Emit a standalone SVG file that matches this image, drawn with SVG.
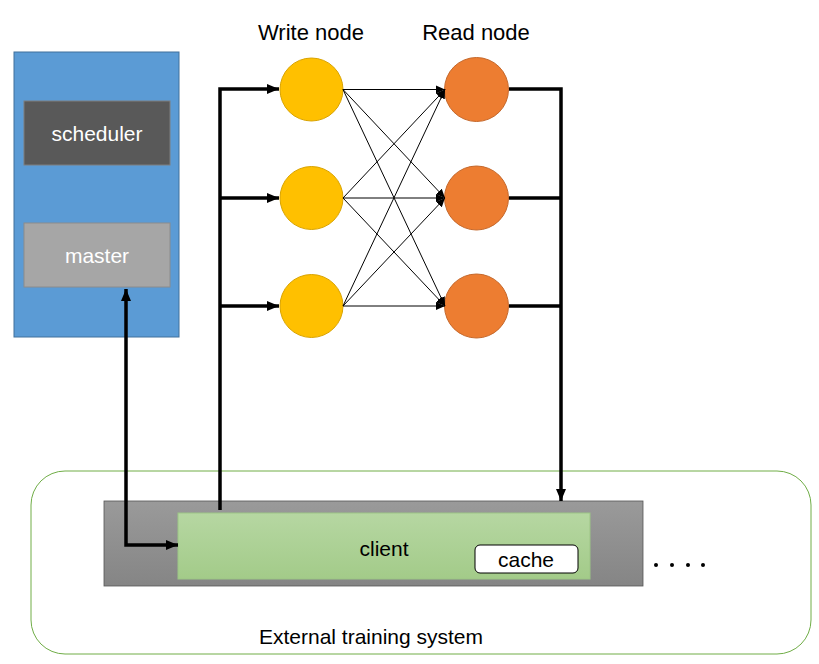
<svg xmlns="http://www.w3.org/2000/svg" width="819" height="664" viewBox="0 0 819 664">
<style>
text{font-family:"Liberation Sans",Arial,sans-serif}
.lbl{font-size:21px;fill:#000;text-anchor:middle}
.hdr{font-size:22px;fill:#000;text-anchor:middle}
.wlbl{font-size:21px;fill:#fff;text-anchor:middle}
.thick{stroke:#000;stroke-width:3.5;fill:none}
.thin{stroke:#000;stroke-width:1;fill:none;marker-end:url(#ah2)}
.wn{fill:#ffc000;stroke:#d9a300;stroke-width:1}
.rn{fill:#ed7d31;stroke:#c5682b;stroke-width:1}
</style>
<defs>
<marker id="ah" markerUnits="userSpaceOnUse" markerWidth="12" markerHeight="12" viewBox="0 0 12 12" refX="12" refY="6" orient="auto-start-reverse">
<path d="M0,1 L12,6 L0,11 Z" fill="#000"/>
</marker>
<marker id="ah2" markerUnits="userSpaceOnUse" markerWidth="9" markerHeight="9" viewBox="0 0 9 9" refX="9" refY="4.5" orient="auto">
<path d="M0,0.5 L9,4.5 L0,8.5 Z" fill="#000"/>
</marker>
<linearGradient id="gg" x1="0" y1="0" x2="0" y2="1">
<stop offset="0" stop-color="#9a9a9a"/>
<stop offset="1" stop-color="#858585"/>
</linearGradient>
<linearGradient id="gr" x1="0" y1="0" x2="0" y2="1">
<stop offset="0" stop-color="#b6d7a2"/>
<stop offset="1" stop-color="#a3cb89"/>
</linearGradient>
</defs>
<rect width="819" height="664" fill="#fff"/>

<g id="external-system">
<rect x="31" y="471" width="780" height="183" rx="34" ry="34" fill="none" stroke="#70ad47" stroke-width="1"/>
<text class="lbl" x="371" y="644">External training system</text>
</g>

<g id="cluster">
<rect x="14" y="52" width="165" height="285" fill="#5b9bd5" stroke="#41719c" stroke-width="1"/>
</g>
<g id="scheduler">
<rect x="24" y="101" width="146" height="64" fill="#595959" stroke="#7f7f7f" stroke-width="1"/>
<text class="wlbl" x="97" y="141">scheduler</text>
</g>
<g id="master">
<rect x="24" y="223" width="146" height="64" fill="#a6a6a6" stroke="#8c8c8c" stroke-width="1"/>
<text class="wlbl" x="97" y="263">master</text>
</g>

<text class="hdr" x="311" y="40">Write node</text>
<text class="hdr" x="476" y="40">Read node</text>

<g id="write1"><circle class="wn" cx="311.5" cy="89.5" r="31.5"/></g>
<g id="write2"><circle class="wn" cx="311.5" cy="198" r="31.5"/></g>
<g id="write3"><circle class="wn" cx="311.5" cy="306" r="31.5"/></g>
<g id="read1"><circle class="rn" cx="476.5" cy="89.5" r="32"/></g>
<g id="read2"><circle class="rn" cx="476.5" cy="198" r="32"/></g>
<g id="read3"><circle class="rn" cx="476.5" cy="306" r="32"/></g>

<g id="worker-host">
<rect x="104" y="501" width="539" height="85" fill="url(#gg)" stroke="#555" stroke-width="0.8"/>
</g>
<g id="client">
<rect x="178" y="513" width="412" height="66" fill="url(#gr)" stroke="#9cc585" stroke-width="1"/>
<text class="lbl" x="384" y="556">client</text>
</g>
<g id="cache">
<rect x="475" y="545" width="103" height="28" rx="5" ry="5" fill="#fff" stroke="#000" stroke-width="1"/>
<text class="lbl" x="526" y="567">cache</text>
</g>
<g id="more">
<circle cx="656" cy="565" r="2" fill="#000"/>
<circle cx="672" cy="565" r="2" fill="#000"/>
<circle cx="688" cy="565" r="2" fill="#000"/>
<circle cx="703" cy="565" r="2" fill="#000"/>
</g>

<g id="connectors">
<polyline class="thick" points="126,289 126,545 178,545" marker-start="url(#ah)" marker-end="url(#ah)"/>
<polyline class="thick" points="220,510 220,89 279,89" marker-end="url(#ah)"/>
<line class="thick" x1="220" y1="198" x2="279" y2="198" marker-end="url(#ah)"/>
<line class="thick" x1="220" y1="306" x2="279" y2="306" marker-end="url(#ah)"/>
<polyline class="thick" points="509,89 561,89 561,501" marker-end="url(#ah)"/>
<line class="thick" x1="509" y1="198" x2="561" y2="198"/>
<line class="thick" x1="509" y1="306" x2="561" y2="306"/>
<line class="thin" x1="343" y1="89.5" x2="445" y2="89.5"/>
<line class="thin" x1="343" y1="89.5" x2="445" y2="198"/>
<line class="thin" x1="343" y1="89.5" x2="445" y2="306"/>
<line class="thin" x1="343" y1="198" x2="445" y2="89.5"/>
<line class="thin" x1="343" y1="198" x2="445" y2="198"/>
<line class="thin" x1="343" y1="198" x2="445" y2="306"/>
<line class="thin" x1="343" y1="306" x2="445" y2="89.5"/>
<line class="thin" x1="343" y1="306" x2="445" y2="198"/>
<line class="thin" x1="343" y1="306" x2="445" y2="306"/>
</g>
</svg>
